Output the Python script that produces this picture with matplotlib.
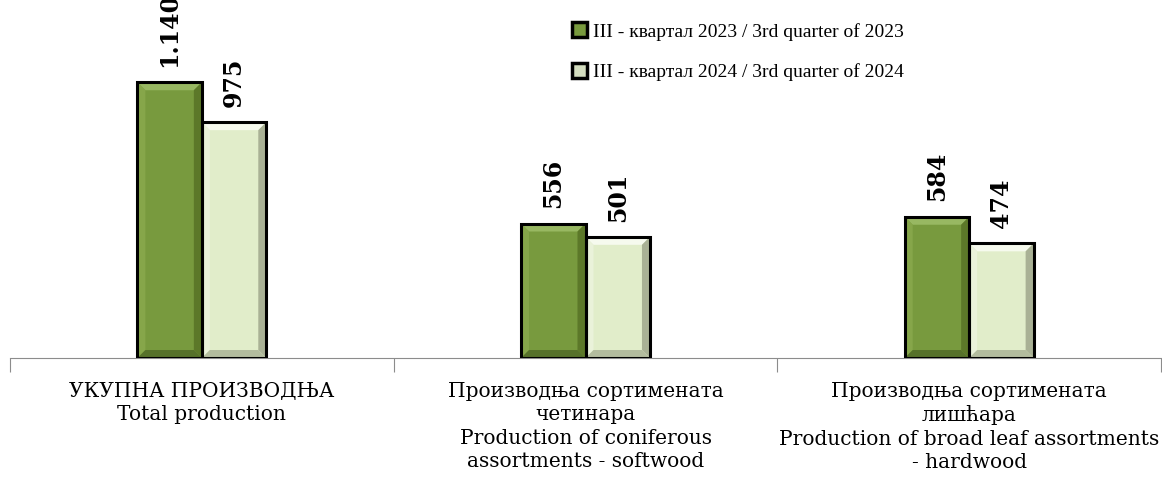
import numpy as np
import matplotlib
matplotlib.use('Agg')
import matplotlib.pyplot as plt
from matplotlib.patches import Patch, Polygon

categories = [
    'УКУПНА ПРОИЗВОДЊА\nTotal production',
    'Производња сортимената\nчетинара\nProduction of coniferous\nassortments - softwood',
    'Производња сортимената\nлишћара\nProduction of broad leaf assortments\n- hardwood',
]
series_names = [
    'III - квартал 2023 / 3rd quarter of 2023',
    'III - квартал 2024 / 3rd quarter of 2024',
]
q3_2023 = [1140, 556, 584]
q3_2024 = [975, 501, 474]
value_labels_2023 = ['1.140', '556', '584']
value_labels_2024 = ['975', '501', '474']

dark_green = '#789A3E'
light_green = '#E1EDCA'
# bevel shades: top, left, right, bottom
bevel_dark = ['#98B862', '#86A64A', '#5C7829', '#56712A']
bevel_light = ['#F6FAEE', '#EAF2DA', '#A9B195', '#B3BC9E']


def add_bevel(ax, rect, shades, b=8):
    # bevel drawn in pixel space from the bar's own geometry
    (x0, y0), (x1, y1) = ax.transData.transform(
        [(rect.get_x(), 0), (rect.get_x() + rect.get_width(), rect.get_height())])
    polys = [
        [(x0, y1), (x1, y1), (x1 - b, y1 - b), (x0 + b, y1 - b)],
        [(x0, y1), (x0 + b, y1 - b), (x0 + b, y0 + b), (x0, y0)],
        [(x1, y1), (x1, y0), (x1 - b, y0 + b), (x1 - b, y1 - b)],
        [(x0, y0), (x1, y0), (x1 - b, y0 + b), (x0 + b, y0 + b)],
    ]
    inv = ax.transData.inverted()
    for p, c in zip(polys, shades):
        ax.add_patch(Polygon(inv.transform(p), closed=True, facecolor=c,
                             edgecolor='none', zorder=2.1))


fig = plt.figure(figsize=(11.62, 4.84), dpi=100)
ax = fig.add_axes([10 / 1162, 1 - 358 / 484, 1151 / 1162, 358 / 484])

x = np.arange(len(categories))
w = 0.168
b1 = ax.bar(x - w / 2, q3_2023, w, color=dark_green, edgecolor='none', zorder=2)
b2 = ax.bar(x + w / 2, q3_2024, w, color=light_green, edgecolor='none', zorder=2)
# outlines on top of the bevels
ax.bar(x - w / 2, q3_2023, w, facecolor='none', edgecolor='black', linewidth=2.2, zorder=3)
ax.bar(x + w / 2, q3_2024, w, facecolor='none', edgecolor='black', linewidth=2.2, zorder=3)

ax.set_xlim(-0.5, len(categories) - 0.5)
ax.set_ylim(0, 1480)

for r in b1:
    add_bevel(ax, r, bevel_dark)
for r in b2:
    add_bevel(ax, r, bevel_light)

for bars, labels in ((b1, value_labels_2023), (b2, value_labels_2024)):
    for r, lab in zip(bars, labels):
        ax.annotate(lab, (r.get_x() + r.get_width() / 2, r.get_height()),
                    xytext=(0, 11), textcoords='offset points',
                    rotation=90, ha='center', va='bottom',
                    fontsize=17, fontweight='bold', family='DejaVu Serif',
                    annotation_clip=False)

for s in ('top', 'right', 'left'):
    ax.spines[s].set_visible(False)
ax.spines['bottom'].set_color('#8c8c8c')
ax.spines['bottom'].set_zorder(1)
ax.set_yticks([])
ax.set_xticks(np.arange(len(categories) + 1) - 0.5)
ax.set_xticklabels([])
ax.tick_params(axis='x', length=10, color='#8c8c8c')
ax.set_xticks(x, minor=True)
ax.set_xticklabels(categories, minor=True, fontsize=14.5, family='DejaVu Serif',
                   linespacing=1.3)
ax.tick_params(axis='x', which='minor', length=0, pad=17)

handles = [Patch(facecolor=dark_green, edgecolor='black', linewidth=2.5),
           Patch(facecolor='#D3DDBF', edgecolor='black', linewidth=2.5)]
fig.legend(handles, series_names, loc='upper left', bbox_to_anchor=(554 / 1162, 0.99),
           frameon=False, prop={'family': 'Liberation Serif', 'size': 14},
           handlelength=0.8, handleheight=0.8, handletextpad=0.3, labelspacing=1.15)

fig.savefig('out.png', dpi=100)
